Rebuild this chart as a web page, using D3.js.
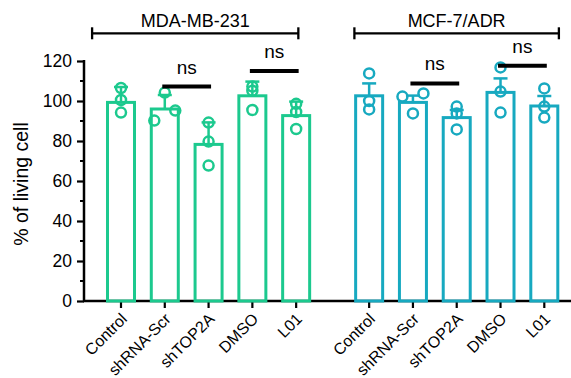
<!DOCTYPE html>
<html>
<head>
<meta charset="utf-8">
<script src="https://cdn.jsdelivr.net/npm/d3@7"></script>
<style>
  body { margin: 0; background: #fff; }
  text { font-family: Arial, "Liberation Sans", sans-serif; fill: #000; }
</style>
</head>
<body>
<div id="chart"></div>
<script>
var categories = ["Control", "shRNA-Scr", "shTOP2A", "DMSO", "L01"];
var groupNames = ["MDA-MB-231", "MCF-7/ADR"];
var yTicks = [0, 20, 40, 60, 80, 100, 120];

// bar heights (mean) and upper SD for each group
var meanMDA = [99.3, 96.0, 78.3, 102.6, 92.7];
var sdMDA = [7.7, 7.0, 11.0, 7.1, 7.0];
var meanMCF = [102.6, 99.3, 91.7, 104.3, 97.5];
var sdMCF = [6.2, 3.4, 3.8, 7.0, 5.0];

// replicate values
var pointsMDA = [[106.5, 100.5, 94.2], [90.2, 104.2, 95.2], [89.2, 79.7, 67.7], [107.2, 105.1, 95.5], [98.6, 94.5, 86.0]];
var pointsMCF = [[113.8, 100.0, 95.8], [102.2, 103.8, 93.8], [97.2, 93.8, 85.8], [116.8, 104.7, 94.2], [106.3, 97.2, 91.7]];
// which side of the column each replicate sits on (-1 left, 0 middle, 1 right)
var sideMDA = [[0, 0, 0], [-1, 0, 1], [0, 0, 0], [0, 0, 0], [0, 0, 0]];
var sideMCF = [[0, 0, 0], [-1, 1, 0], [0, 0, 0], [0, 0, 0], [0, 0, 0]];

// "ns" comparisons: category index pairs and line height
var nsMDA = [[1, 2, 107.2], [3, 4, 115.0]];
var nsMCF = [[1, 2, 108.8], [3, 4, 117.6]];

var colors = ["#1cc98e", "#17a9c0"];

var width = 571, height = 378;
var svg = d3.select("#chart").append("svg")
  .attr("width", width)
  .attr("height", height);

var groupGap = 0.667; // extra slot space between the two cell lines
var x = d3.scaleLinear().domain([0, 4 + 1 + groupGap + 4]).range([121, 544.3]);
var y = d3.scaleLinear().domain([0, 120]).range([301, 61]);
var barW = 27;

function slot(g, i) { return g * (5 + groupGap) + i; }

// y axis
var yAxis = d3.axisLeft(y).tickValues(yTicks).tickSize(7).tickPadding(5);
var ya = svg.append("g").attr("transform", "translate(84,0)").call(yAxis);
ya.select(".domain").attr("stroke-width", 2.5).attr("d", "M0," + (y(120) - 1) + "V" + (y(0) + 1));
ya.selectAll(".tick line").attr("stroke-width", 2.2);
ya.selectAll(".tick text").style("font-size", "17.5px").style("font-family", "Arial, 'Liberation Sans', sans-serif");
// minor ticks
ya.selectAll(".minor").data(d3.range(10, 120, 20)).enter().append("line")
  .attr("x1", -4).attr("x2", 0)
  .attr("y1", function(d){ return y(d); }).attr("y2", function(d){ return y(d); })
  .attr("stroke", "#000").attr("stroke-width", 2);

svg.append("text")
  .attr("transform", "translate(27.5,184) rotate(-90)")
  .attr("text-anchor", "middle")
  .style("font-size", "19.5px")
  .text("% of living cell");

// x axis
var allSlots = [];
groupNames.forEach(function(g, gi){
  categories.forEach(function(c, ci){ allSlots.push({g: gi, i: ci, name: c}); });
});
var xa = svg.append("g");
xa.append("line").attr("x1", 83).attr("x2", 571).attr("y1", y(0)).attr("y2", y(0))
  .attr("stroke", "#000").attr("stroke-width", 2.5);
xa.selectAll(".xt").data(allSlots).enter().append("line")
  .attr("x1", function(d){ return x(slot(d.g, d.i)); })
  .attr("x2", function(d){ return x(slot(d.g, d.i)); })
  .attr("y1", y(0)).attr("y2", y(0) + 7)
  .attr("stroke", "#000").attr("stroke-width", 2.2);
xa.selectAll(".xl").data(allSlots).enter().append("text")
  .attr("transform", function(d){ return "translate(" + (x(slot(d.g, d.i)) + 3) + "," + (y(0) + 15) + ") rotate(-45)"; })
  .attr("text-anchor", "end")
  .attr("dy", "0.35em")
  .style("font-size", "16px")
  .text(function(d){ return d.name; });

// bars, error bars, points
var means = [meanMDA, meanMCF], sds = [sdMDA, sdMCF], pts = [pointsMDA, pointsMCF], sides = [sideMDA, sideMCF];
groupNames.forEach(function(g, gi){
  var col = colors[gi];
  var gg = svg.append("g");
  categories.forEach(function(c, ci){
    var cx = x(slot(gi, ci));
    var m = means[gi][ci], s = sds[gi][ci];
    gg.append("rect")
      .attr("x", cx - barW / 2).attr("y", y(m))
      .attr("width", barW).attr("height", y(0) - y(m))
      .attr("fill", "none").attr("stroke", col).attr("stroke-width", 3);
    gg.append("line")
      .attr("x1", cx).attr("x2", cx).attr("y1", y(m)).attr("y2", y(m + s))
      .attr("stroke", col).attr("stroke-width", 2.5);
    gg.append("line")
      .attr("x1", cx - 7).attr("x2", cx + 7).attr("y1", y(m + s)).attr("y2", y(m + s))
      .attr("stroke", col).attr("stroke-width", 2.5);
    gg.selectAll(".pt" + ci).data(pts[gi][ci]).enter().append("circle")
      .attr("cx", function(d, k){ return cx + sides[gi][ci][k] * 10.5; })
      .attr("cy", function(d){ return y(d); })
      .attr("r", 5)
      .attr("fill", "none").attr("stroke", col).attr("stroke-width", 2.5);
  });
});

// ns markers
[nsMDA, nsMCF].forEach(function(list, gi){
  list.forEach(function(n){
    var x1 = x(slot(gi, n[0])) - 2.5, x2 = x(slot(gi, n[1])) + 2.5, yy = y(n[2]);
    svg.append("line").attr("x1", x1).attr("x2", x2).attr("y1", yy).attr("y2", yy)
      .attr("stroke", "#000").attr("stroke-width", 4);
    svg.append("text").attr("x", (x1 + x2) / 2).attr("y", yy - 13)
      .attr("text-anchor", "middle").style("font-size", "19px").text("ns");
  });
});

// cell-line brackets
var bracketSpan = [[-0.66, 4.05], [5.33, 10.0]];
groupNames.forEach(function(g, gi){
  var x1 = x(bracketSpan[gi][0]), x2 = x(bracketSpan[gi][1]), by = 33.3;
  var b = svg.append("g").attr("stroke", "#000").attr("stroke-width", 2.3);
  b.append("line").attr("x1", x1).attr("x2", x2).attr("y1", by).attr("y2", by);
  b.append("line").attr("x1", x1).attr("x2", x1).attr("y1", by - 6).attr("y2", by + 6);
  b.append("line").attr("x1", x2).attr("x2", x2).attr("y1", by - 6).attr("y2", by + 6);
  svg.append("text").attr("x", (x1 + x2) / 2).attr("y", 27)
    .attr("text-anchor", "middle").style("font-size", "18px").text(g);
});
</script>
</body>
</html>
